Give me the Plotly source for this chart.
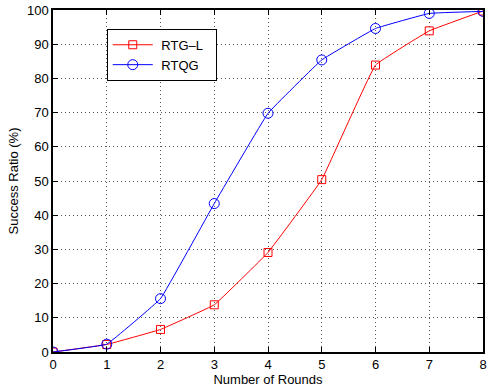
import plotly.graph_objects as go

rounds = [0, 1, 2, 3, 4, 5, 6, 7, 8]
rtg_l = [0, 2.2, 6.6, 13.8, 29.1, 50.4, 83.9, 93.9, 99.7]
rtqg = [0, 2.3, 15.6, 43.4, 69.8, 85.4, 94.6, 99.0, 99.6]

font = "Liberation Sans, Arial, Helvetica, sans-serif"

fig = go.Figure()
fig.add_trace(go.Scatter(
    x=rounds, y=rtg_l, name="\u00a0RTG\u2013L\u00a0\u00a0", mode="lines+markers",
    line=dict(color="#ff0000", width=1, shape="spline", smoothing=0.2),
    marker=dict(symbol="square-open", size=8, color="#ff0000", line=dict(width=1)),
))
fig.add_trace(go.Scatter(
    x=rounds, y=rtqg, name="\u00a0RTQG", mode="lines+markers",
    line=dict(color="#0000ff", width=1, shape="spline", smoothing=0.2),
    marker=dict(symbol="circle-open", size=10, color="#0000ff", line=dict(width=1)),
))

axis_common = dict(
    showgrid=True, gridcolor="#555555", griddash="1px,3px", gridwidth=1,
    showline=True, linecolor="black", linewidth=1.5, mirror="ticks",
    ticks="inside", ticklen=5, tickcolor="black",
    tickfont=dict(family=font, size=13, color="black"),
    zeroline=False,
)

fig.update_layout(
    width=489, height=391,
    margin=dict(l=53, r=2, t=10, b=39),
    plot_bgcolor="white", paper_bgcolor="white",
    font=dict(family=font, size=13, color="black"),
    xaxis=dict(range=[0, 8], dtick=1,
               title=dict(text="Number of Rounds", font=dict(family=font, size=13), standoff=2),
               **axis_common),
    yaxis=dict(range=[0, 100], dtick=10,
               title=dict(text="Success Ratio (%)", font=dict(family=font, size=13), standoff=5),
               **axis_common),
    legend=dict(x=0.125, y=0.945, xanchor="left", yanchor="top",
                bgcolor="white", bordercolor="black", borderwidth=1,
                font=dict(family=font, size=13), itemwidth=40,
                tracegroupgap=0),
    showlegend=True,
)

fig.write_html("out.html")
